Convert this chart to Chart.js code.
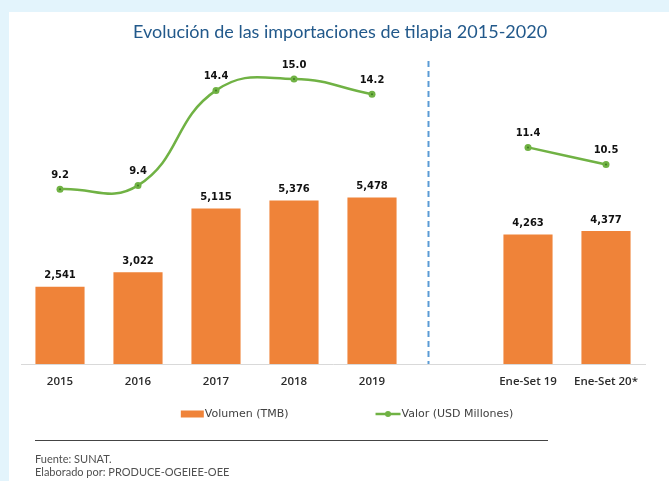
<!DOCTYPE html>
<html>
<head>
<meta charset="utf-8">
<script src="https://cdn.jsdelivr.net/npm/chart.js@4"></script>
<style>
  html, body { margin:0; padding:0; width:669px; height:481px; overflow:hidden; background:#e3f4fc; }
  #wrap { position:relative; width:669px; height:481px; }
  canvas { position:absolute; left:0; top:0; }
  .title { position:absolute; left:9px; width:662px; top:20px; text-align:center;
           font-family:Lato, "Liberation Sans", sans-serif; font-size:18px; line-height:22px; color:#22598b; }
  .sep { position:absolute; left:35px; top:440px; width:513px; height:1px; background:#444; }
  .foot { position:absolute; left:35px; font-family:Lato, "Liberation Sans", sans-serif; font-size:11px; line-height:13px; color:#505050; }
</style>
</head>
<body>
<div id="wrap">
  <canvas id="c" width="669" height="481"></canvas>
  <div class="title">Evolución de las importaciones de tilapia 2015-2020</div>
  <div class="sep"></div>
  <div class="foot" style="top:452px">Fuente: SUNAT.</div>
  <div class="foot" style="top:465px">Elaborado por: PRODUCE-OGEIEE-OEE</div>
</div>
<script>
const categories = ['2015', '2016', '2017', '2018', '2019', '', 'Ene-Set 19', 'Ene-Set 20*'];
const volumen = [2541, 3022, 5115, 5376, 5478, null, 4263, 4377];
const valor = [9.2, 9.4, 14.4, 15.0, 14.2, null, 11.4, 10.5];
const seriesNames = ['Volumen (TMB)', 'Valor (USD Millones)'];

const ORANGE = '#ef8339';
const GREEN = '#70b244';
const DIVIDER_INDEX = 4.72;

const bgPlugin = {
  id: 'bg',
  beforeDraw(chart) {
    const ctx = chart.ctx;
    ctx.save();
    ctx.fillStyle = '#e3f4fc';
    ctx.fillRect(0, 0, chart.width, chart.height);
    ctx.fillStyle = '#ffffff';
    ctx.fillRect(9, 12, chart.width - 9, chart.height - 12);
    ctx.restore();
  }
};

const overlayPlugin = {
  id: 'overlay',
  afterDatasetsDraw(chart) {
    const ctx = chart.ctx;
    const area = chart.chartArea;
    const xs = chart.scales.x;
    ctx.save();
    // dashed divider
    const dx = Math.round(xs.getPixelForValue(DIVIDER_INDEX)) + 0.5;
    ctx.strokeStyle = '#5b9bd5';
    ctx.lineWidth = 2;
    ctx.setLineDash([6, 4]);
    ctx.beginPath();
    ctx.moveTo(dx, area.top + 1);
    ctx.lineTo(dx, area.bottom);
    ctx.stroke();
    ctx.setLineDash([]);

    // point centres
    ctx.fillStyle = '#3f7a22';
    chart.getDatasetMeta(0).data.forEach((el, i) => {
      if (valor[i] == null) return;
      ctx.beginPath();
      ctx.arc(el.x, el.y, 1, 0, Math.PI * 2);
      ctx.fill();
    });

    // data labels
    ctx.font = 'bold 10px "DejaVu Sans"';
    ctx.fillStyle = '#111';
    ctx.textAlign = 'center';
    ctx.textBaseline = 'middle';
    chart.getDatasetMeta(1).data.forEach((el, i) => {
      if (volumen[i] == null) return;
      ctx.fillText(volumen[i].toLocaleString('en-US'), el.x, el.y - 11);
    });
    chart.getDatasetMeta(0).data.forEach((el, i) => {
      if (valor[i] == null) return;
      ctx.fillText(valor[i].toFixed(1), el.x, el.y - 14);
    });

    // legend
    const ly = 414;
    ctx.font = '11px "DejaVu Sans"';
    ctx.fillStyle = '#404040';
    ctx.textAlign = 'left';
    const w1 = ctx.measureText(seriesNames[0]).width;
    const w2 = ctx.measureText(seriesNames[1]).width;
    const total = 24 + w1 + 87 + 26 + w2;
    let x = 347 - total / 2;
    ctx.fillStyle = ORANGE;
    ctx.fillRect(x, ly - 3.5, 23, 7);
    ctx.fillStyle = '#404040';
    ctx.fillText(seriesNames[0], x + 24, ly + 0.5);
    x += 24 + w1 + 87;
    ctx.strokeStyle = GREEN;
    ctx.lineWidth = 2.5;
    ctx.beginPath();
    ctx.moveTo(x, ly);
    ctx.lineTo(x + 25, ly);
    ctx.stroke();
    ctx.fillStyle = GREEN;
    ctx.beginPath();
    ctx.arc(x + 12.5, ly, 3, 0, Math.PI * 2);
    ctx.fill();
    ctx.fillStyle = '#404040';
    ctx.fillText(seriesNames[1], x + 26, ly + 0.5);
    ctx.restore();
  }
};

new Chart(document.getElementById('c'), {
  data: {
    labels: categories,
    datasets: [
      {
        type: 'line',
        label: seriesNames[1],
        data: valor,
        yAxisID: 'y2',
        borderColor: GREEN,
        backgroundColor: GREEN,
        borderWidth: 2.5,
        pointRadius: 3.5,
        pointBackgroundColor: GREEN,
        pointBorderWidth: 0,
        tension: 0.45,
        spanGaps: false,
        order: 0
      },
      {
        type: 'bar',
        label: seriesNames[0],
        data: volumen,
        yAxisID: 'y',
        backgroundColor: ORANGE,
        barPercentage: 0.63,
        categoryPercentage: 1,
        order: 1
      }
    ]
  },
  options: {
    responsive: false,
    animation: false,
    devicePixelRatio: 1,
    layout: { padding: { left: 21, right: 24, top: 60, bottom: 77 } },
    plugins: { legend: { display: false }, tooltip: { enabled: false }, title: { display: false } },
    scales: {
      x: {
        offset: true,
        grid: { display: false, drawTicks: false },
        border: { display: true, color: '#d9d9d9', width: 1 },
        ticks: { color: '#2b2b2b', padding: 11, maxRotation: 0, autoSkip: false,
                 font: { family: '"Open Sans"', size: 11.5, weight: 600 } },
        afterFit(scale) { scale.height = 40; }
      },
      y: { display: false, min: 0, max: 10000 },
      y2: { display: false, min: 0, max: 16, position: 'right' }
    }
  },
  plugins: [bgPlugin, overlayPlugin]
});
</script>
</body>
</html>
